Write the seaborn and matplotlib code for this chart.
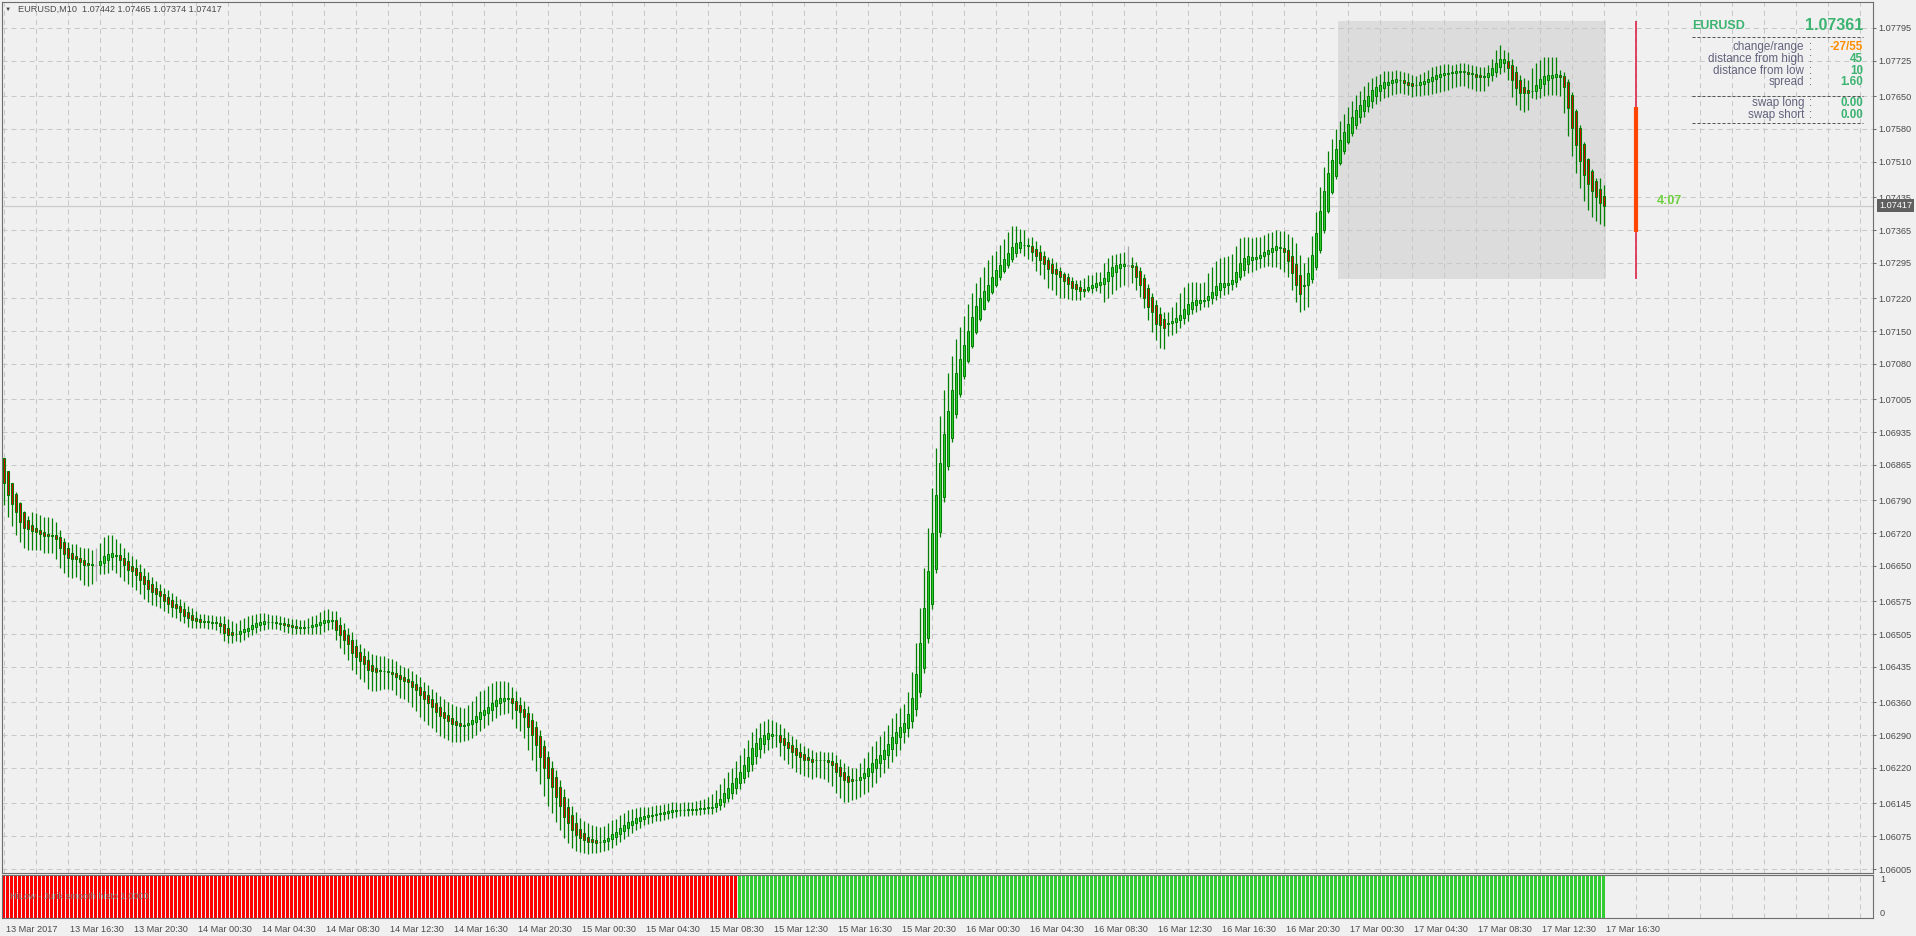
import numpy as np
import pandas as pd
import seaborn as sns
import matplotlib.pyplot as plt
import matplotlib.transforms as mtransforms
from matplotlib.lines import Line2D

# ---- data (prices in points of 0.00001 above 1.06000) ----
BASE = 1.06
first_open_pts = 879
close_pts = [
    826, 801, 781, 764, 744, 731, 728, 725, 723, 719,
    714, 714, 714, 707, 689, 675, 666, 664, 664, 658,
    652, 651, 651, 653, 660, 671, 675, 677, 672, 663,
    653, 641, 640, 631, 621, 611, 602, 595, 591, 585,
    575, 570, 563, 560, 551, 544, 539, 535, 533, 531,
    531, 531, 529, 528, 523, 508, 503, 502, 506, 511,
    515, 519, 524, 528, 531, 532, 531, 531, 528, 526,
    524, 522, 521, 519, 519, 519, 521, 524, 526, 531,
    534, 536, 535, 514, 503, 492, 484, 464, 457, 448,
    441, 429, 426, 425, 426, 426, 424, 421, 413, 409,
    406, 402, 393, 386, 375, 366, 358, 350, 340, 331,
    326, 319, 314, 311, 309, 309, 316, 322, 331, 340,
    343, 350, 358, 365, 368, 370, 370, 358, 343, 340,
    329, 308, 290, 269, 244, 219, 198, 180, 159, 139,
    116, 102, 88, 77, 72, 67, 63, 63, 61, 63,
    67, 72, 79, 84, 92, 99, 104, 108, 113, 116,
    118, 120, 121, 123, 125, 127, 129, 131, 131, 130,
    131, 132, 132, 133, 134, 135, 136, 138, 145, 155,
    166, 177, 187, 198, 212, 226, 244, 262, 274, 283,
    290, 294, 292, 290, 276, 269, 262, 255, 248, 243,
    238, 236, 233, 236, 238, 237, 233, 226, 212, 202,
    194, 191, 193, 194, 201, 209, 219, 230, 240, 248,
    258, 272, 287, 297, 308, 315, 335, 370, 420, 485,
    560, 640, 720, 800, 870, 930, 980, 1025, 1060, 1090,
    1120, 1150, 1179, 1203, 1220, 1235, 1248, 1264, 1280, 1291,
    1303, 1317, 1328, 1337, 1339, 1334, 1330, 1319, 1310, 1301,
    1292, 1283, 1274, 1271, 1266, 1257, 1250, 1242, 1239, 1236,
    1236, 1243, 1248, 1252, 1254, 1262, 1276, 1287, 1291, 1292,
    1293, 1289, 1287, 1266, 1248, 1220, 1202, 1191, 1166, 1163,
    1156, 1168, 1171, 1177, 1184, 1196, 1207, 1212, 1216, 1216,
    1217, 1225, 1234, 1246, 1252, 1252, 1253, 1259, 1276, 1294,
    1305, 1310, 1307, 1307, 1312, 1318, 1322, 1326, 1330, 1328,
    1319, 1298, 1273, 1248, 1228, 1245, 1273, 1312, 1358, 1406,
    1449, 1486, 1514, 1537, 1557, 1574, 1591, 1606, 1620, 1631,
    1642, 1651, 1662, 1669, 1674, 1679, 1681, 1684, 1686, 1684,
    1677, 1674, 1672, 1674, 1679, 1682, 1686, 1691, 1695, 1698,
    1700, 1700, 1701, 1703, 1704, 1702, 1697, 1696, 1691, 1690,
    1691, 1699, 1709, 1720, 1730, 1728, 1709, 1684, 1667, 1657,
    1657, 1657, 1661, 1674, 1686, 1693, 1694, 1694, 1697, 1690,
    1669, 1625, 1583, 1547, 1512, 1483, 1464, 1449, 1435, 1423,
    1417,
]
# upper / lower wick beyond the body, in points
wick_up = [
    0, 0, 0, 4, 3, 4, 8, 28, 32, 31,
    31, 36, 35, 29, 16, 9, 14, 20, 27, 23,
    26, 31, 30, 35, 38, 40, 41, 39, 34, 27,
    21, 20, 20, 20, 16, 16, 16, 16, 15, 15,
    13, 16, 16, 16, 14, 15, 14, 15, 14, 12,
    14, 13, 14, 13, 15, 18, 20, 22, 22, 24,
    25, 24, 22, 20, 18, 17, 16, 15, 14, 15,
    14, 13, 13, 14, 15, 16, 18, 19, 20, 21,
    22, 22, 20, 20, 18, 16, 16, 15, 16, 15,
    18, 20, 24, 28, 30, 30, 28, 26, 24, 22,
    22, 22, 20, 20, 20, 20, 22, 22, 24, 24,
    26, 28, 30, 32, 34, 36, 38, 40, 42, 44,
    44, 44, 42, 40, 38, 36, 34, 24, 20, 18,
    16, 14, 14, 14, 14, 14, 14, 14, 15, 15,
    16, 18, 20, 22, 24, 26, 28, 30, 30, 30,
    30, 30, 30, 28, 28, 26, 26, 24, 22, 20,
    20, 18, 18, 18, 17, 17, 16, 16, 16, 16,
    16, 16, 16, 17, 18, 20, 22, 26, 28, 30,
    32, 34, 34, 36, 36, 36, 36, 34, 32, 32,
    30, 30, 30, 28, 24, 22, 20, 20, 20, 18,
    18, 18, 18, 18, 18, 18, 18, 18, 18, 18,
    20, 22, 24, 26, 30, 32, 34, 36, 38, 40,
    40, 40, 40, 40, 40, 42, 46, 55, 65, 75,
    85, 90, 95, 100, 100, 95, 80, 72, 73, 69,
    62, 58, 53, 50, 44, 52, 53, 48, 41, 42,
    43, 44, 46, 37, 28, 30, 15, 19, 17, 16,
    10, 6, 14, 13, 9, 5, 9, 7, 9, 15,
    22, 26, 21, 24, 22, 32, 29, 25, 24, 24,
    26, 40, 18, 8, 10, 8, 8, 10, 10, 14,
    16, 23, 31, 35, 46, 47, 46, 43, 39, 36,
    38, 48, 52, 52, 54, 56, 56, 56, 54, 55,
    46, 41, 42, 44, 39, 36, 36, 35, 35, 35,
    36, 34, 40, 45, 42, 45, 35, 40, 45, 50,
    50, 48, 45, 42, 40, 38, 36, 34, 32, 30,
    30, 28, 26, 24, 24, 24, 22, 20, 20, 20,
    18, 18, 18, 18, 18, 20, 20, 20, 20, 18,
    18, 18, 16, 16, 16, 18, 16, 16, 16, 18,
    20, 17, 21, 28, 29, 20, 20, 13, 13, 11,
    18, 20, 48, 46, 41, 40, 40, 39, 37, 12,
    10, 6, 5, 5, 5, 5, 3, 5, 6, 23,
    23,
]
wick_dn = [
    46, 46, 47, 48, 44, 42, 43, 41, 39, 36,
    37, 36, 36, 42, 43, 41, 39, 40, 38, 38,
    42, 43, 40, 35, 19, 24, 28, 28, 36, 36,
    36, 30, 34, 32, 31, 31, 29, 28, 26, 25,
    20, 21, 21, 21, 18, 16, 18, 18, 16, 14,
    14, 15, 14, 15, 16, 18, 18, 16, 15, 17,
    16, 14, 13, 12, 12, 13, 14, 14, 13, 13,
    14, 14, 15, 14, 13, 13, 15, 16, 17, 18,
    18, 17, 18, 22, 28, 30, 34, 36, 36, 38,
    38, 40, 42, 42, 40, 38, 36, 36, 38, 40,
    40, 42, 44, 44, 46, 46, 46, 44, 44, 42,
    42, 40, 38, 36, 34, 32, 30, 30, 28, 26,
    26, 26, 24, 24, 26, 28, 30, 34, 38, 42,
    46, 50, 54, 56, 58, 58, 58, 56, 54, 50,
    46, 42, 38, 34, 30, 28, 26, 24, 22, 22,
    20, 20, 18, 18, 16, 16, 16, 16, 15, 15,
    14, 14, 14, 13, 13, 13, 13, 13, 13, 13,
    12, 12, 12, 12, 12, 12, 12, 12, 10, 10,
    10, 10, 12, 12, 12, 12, 12, 14, 16, 18,
    20, 22, 24, 26, 30, 32, 34, 36, 36, 36,
    36, 36, 36, 36, 38, 40, 42, 44, 46, 46,
    46, 44, 42, 40, 36, 34, 34, 32, 32, 30,
    30, 28, 28, 28, 26, 24, 20, 16, 14, 12,
    12, 10, 10, 10, 10, 10, 8, 8, 8, 6,
    6, 5, 4, 4, 4, 4, 4, 4, 5, 5,
    5, 6, 7, 8, 10, 22, 26, 20, 32, 32,
    31, 41, 37, 44, 45, 37, 32, 26, 24, 19,
    13, 6, 10, 10, 17, 40, 36, 38, 40, 40,
    40, 46, 35, 29, 25, 22, 29, 42, 35, 50,
    45, 26, 26, 23, 17, 14, 15, 11, 14, 15,
    12, 14, 12, 12, 16, 17, 19, 14, 11, 6,
    13, 19, 25, 24, 22, 22, 26, 31, 35, 43,
    43, 33, 36, 36, 37, 50, 45, 8, 6, 5,
    5, 5, 5, 6, 6, 6, 6, 8, 10, 12,
    12, 14, 16, 18, 20, 22, 24, 25, 26, 26,
    22, 22, 24, 24, 25, 25, 26, 28, 30, 32,
    34, 34, 32, 30, 30, 30, 30, 30, 30, 30,
    30, 21, 14, 11, 14, 19, 25, 35, 36, 37,
    40, 37, 15, 16, 21, 27, 32, 37, 40, 40,
    56, 60, 60, 60, 58, 57, 56, 56, 51, 46,
    43,
]
doji_bars = [23, 281]
histo_red_last = 183          # histogram is red up to this bar, green after

time_labels = [
    "13 Mar 2017", "13 Mar 16:30", "13 Mar 20:30", "14 Mar 00:30", "14 Mar 04:30",
    "14 Mar 08:30", "14 Mar 12:30", "14 Mar 16:30", "14 Mar 20:30", "15 Mar 00:30",
    "15 Mar 04:30", "15 Mar 08:30", "15 Mar 12:30", "15 Mar 16:30", "15 Mar 20:30",
    "16 Mar 00:30", "16 Mar 04:30", "16 Mar 08:30", "16 Mar 12:30", "16 Mar 16:30",
    "16 Mar 20:30", "17 Mar 00:30", "17 Mar 04:30", "17 Mar 08:30", "17 Mar 12:30",
    "17 Mar 16:30",
]
price_labels = [
    "1.07795", "1.07725", "1.07650", "1.07580", "1.07510", "1.07435", "1.07365",
    "1.07295", "1.07220", "1.07150", "1.07080", "1.07005", "1.06935", "1.06865",
    "1.06790", "1.06720", "1.06650", "1.06575", "1.06505", "1.06435", "1.06360",
    "1.06290", "1.06220", "1.06145", "1.06075", "1.06005",
]
title_ohlc = ["1.07442", "1.07465", "1.07374", "1.07417"]
last_close = 1.07417
bid = 1.07361
day_high = 1.07810
day_low = 1.07261
day_open = 1.07627
day_first_bar = 334
range_bar = 408
timer_text = "4:07"
info_rows = [("change/range", "-27/55"), ("distance from high", "45"),
             ("distance from low", "10"), ("spread", "1.60")]
swap_rows = [("swap long", "0.00"), ("swap short", "0.00")]

assert len(close_pts) == len(wick_up) == len(wick_dn)

# ---- heiken ashi style bodies ----
n = len(close_pts)
c = np.array(close_pts, float)
o = np.empty(n)
o[0] = first_open_pts
for i in range(1, n):
    o[i] = (o[i - 1] + c[i - 1]) / 2
top = np.maximum(o, c)
bot = np.minimum(o, c)
hi = top + np.array(wick_up)
lo = bot - np.array(wick_dn)

df = pd.DataFrame({
    "bar": np.arange(n),
    "open": BASE + o * 1e-5, "close": BASE + c * 1e-5,
    "high": BASE + hi * 1e-5, "low": BASE + lo * 1e-5,
})
df["kind"] = np.where(df["close"] >= df["open"], "up", "down")
df.loc[doji_bars, "kind"] = "doji"

# ---- style ----
sns.set_theme(style="white")
plt.rcParams["font.family"] = ["Liberation Sans", "DejaVu Sans"]
plt.rcParams["lines.scale_dashes"] = False
BG = "#f0f0f0"
GRID = dict(color="#c8c8c8", linestyle=(0, (3.6, 2.9)), linewidth=0.75)
TXT = "#4a4a4a"
SPINE = "#6e6e6e"

W, H = 1916, 936
fig = plt.figure(figsize=(W / 100, H / 100), dpi=100, facecolor=BG)
ax = fig.add_axes([2 / W, 1 - 873 / H, 1871 / W, 871 / H], facecolor=BG)
axh = fig.add_axes([2 / W, 1 - 918 / H, 1871 / W, 43 / H], facecolor=BG)

x0, x1 = -0.4, 467.35

# day range box
ax.fill_between([day_first_bar - 0.5, n - 0.5], day_low, day_high,
                color="#dcdcdc", lw=0, zorder=0.4)

# wicks
wick_col = np.where(df["kind"] == "doji", "#a8a8a8", "#008000")
ax.vlines(df["bar"], df["low"], df["high"], colors=wick_col, lw=0.9, zorder=3)

# bodies
fill = df["kind"].map({"up": "#32cd32", "down": "#e00000", "doji": "#a8a8a8"})
edge = df["kind"].map({"up": "#008000", "down": "#008000", "doji": "#a8a8a8"})
ax.bar(df["bar"], (df["close"] - df["open"]).abs(),
       bottom=df[["open", "close"]].min(axis=1), width=0.5,
       color=fill, edgecolor=edge, linewidth=0.75, zorder=4)

# last price line, tag and timer
ax.axhline(last_close, color="#cdcdcd", lw=1.0, zorder=2)
ax.annotate(f"{last_close:.5f}", xy=(1, last_close), xycoords=("axes fraction", "data"),
            xytext=(4.3, 0), textcoords="offset points", ha="left", va="center",
            fontsize=6.6, color="white", annotation_clip=False,
            bbox=dict(boxstyle="square,pad=0.22", fc="#606060", ec="none"))
ax.text(413.3, 1.07427, timer_text, ha="left", va="center", fontsize=9,
        fontweight="bold", color="#6ccf3c", zorder=5)

# current day range bar
ax.vlines(range_bar, day_low, day_high, color="#dc143c", lw=1.1, zorder=5)
ax.vlines(range_bar, bid, day_open, color="#ff4500", lw=3.0, zorder=6)

ax.set_xlim(x0, x1)
ax.set_ylim(1.059965, 1.078503)
ax.set_xticks(np.arange(0, n, 16))
ax.set_xticks(np.arange(0, 466, 8), minor=True)
ax.tick_params(axis="x", which="both", length=0, labelbottom=False)
ax.yaxis.tick_right()
ax.set_yticks([float(p) for p in price_labels])
ax.set_yticklabels(price_labels)
ax.tick_params(axis="y", direction="out", length=2.5, width=0.75, color=SPINE,
               pad=1.5, labelsize=6.6, labelcolor=TXT)
ax.set_axisbelow(True)
ax.grid(True, axis="x", which="both", **GRID)
ax.grid(True, axis="y", which="major", **GRID)

# histogram panel
hist = pd.DataFrame({"bar": np.arange(n), "val": np.ones(n)})
hist["side"] = np.where(hist["bar"] <= histo_red_last, "red", "green")
sns.barplot(data=hist, x="bar", y="val", hue="side", native_scale=True,
            palette={"red": "#ff0000", "green": "#32cd32"}, dodge=False,
            width=0.75, saturation=1, errorbar=None, linewidth=0,
            legend=False, ax=axh, zorder=2)
axh.set_xlim(x0, x1)
axh.set_ylim(0, 1.01)
axh.set_xlabel("")
axh.set_ylabel("")
axh.set_xticks(np.arange(0, n, 16))
axh.set_xticklabels(time_labels)
axh.set_xticks(np.arange(0, 466, 8), minor=True)
axh.tick_params(axis="x", which="major", direction="out", length=3, width=0.75,
                color=SPINE, pad=2, labelsize=6.6, labelcolor=TXT)
axh.tick_params(axis="x", which="minor", length=0)
shift = mtransforms.ScaledTranslation(1.5 / 72, 0, fig.dpi_scale_trans)
for lab in axh.get_xticklabels():
    lab.set_horizontalalignment("left")
    lab.set_transform(lab.get_transform() + shift)
axh.yaxis.tick_right()
axh.set_yticks([1, 0])
axh.set_yticklabels(["1", "0"])
axh.tick_params(axis="y", length=0, pad=5, labelsize=6.6, labelcolor=TXT)
ylabs = axh.get_yticklabels()
ylabs[0].set_verticalalignment("top")
ylabs[1].set_verticalalignment("bottom")
axh.set_axisbelow(True)
axh.grid(True, axis="x", which="both", **GRID)
axh.text(8 / 1871, 0.5, "HiLow - Jurik smooth histo 1.0000", transform=axh.transAxes,
         ha="left", va="center", fontsize=6.6, color="#808080", zorder=5)

for a in (ax, axh):
    for s in a.spines.values():
        s.set_color(SPINE)
        s.set_linewidth(0.8)

# chart title
fig.text(5 / W, 1 - 9 / H, "\u25bc", fontsize=4.5, color=TXT, va="center")
fig.text(18 / W, 1 - 9 / H, "EURUSD,M10  " + " ".join(title_ohlc),
         fontsize=6.6, color=TXT, va="center")

# info panel
GREEN = "#3cb371"
LAB = "#63637e"
fig.text(1692 / W, 1 - 26 / H, "EURUSD", fontsize=9, fontweight="bold",
         color=GREEN, va="center", ha="left")
fig.text(1863 / W, 1 - 25 / H, f"{bid:.5f}", fontsize=11.5, fontweight="bold",
         color=GREEN, va="center", ha="right")


def sep(y):
    fig.add_artist(Line2D([1692 / W, 1863 / W], [1 - y / H] * 2, transform=fig.transFigure,
                          color="#505050", lw=0.7, linestyle=(0, (2.2, 1.4))))


def row(y, label, value, vcol):
    fig.text(1804 / W, 1 - y / H, label, fontsize=8.4, color=LAB, va="center", ha="right")
    fig.text(1811 / W, 1 - y / H, ":", fontsize=8.4, color=LAB, va="center", ha="center")
    fig.text(1863 / W, 1 - y / H, value, fontsize=8.4, fontweight="bold", color=vcol,
             va="center", ha="right")


sep(37)
for (lab, val), y in zip(info_rows, [47, 59, 71, 82]):
    row(y, lab, val, "#ff8c00" if val.startswith("-") else GREEN)
sep(96)
for (lab, val), y in zip(swap_rows, [103, 115]):
    row(y, lab, val, GREEN)
sep(123)

fig.savefig("out.png", dpi=100, facecolor=BG)
